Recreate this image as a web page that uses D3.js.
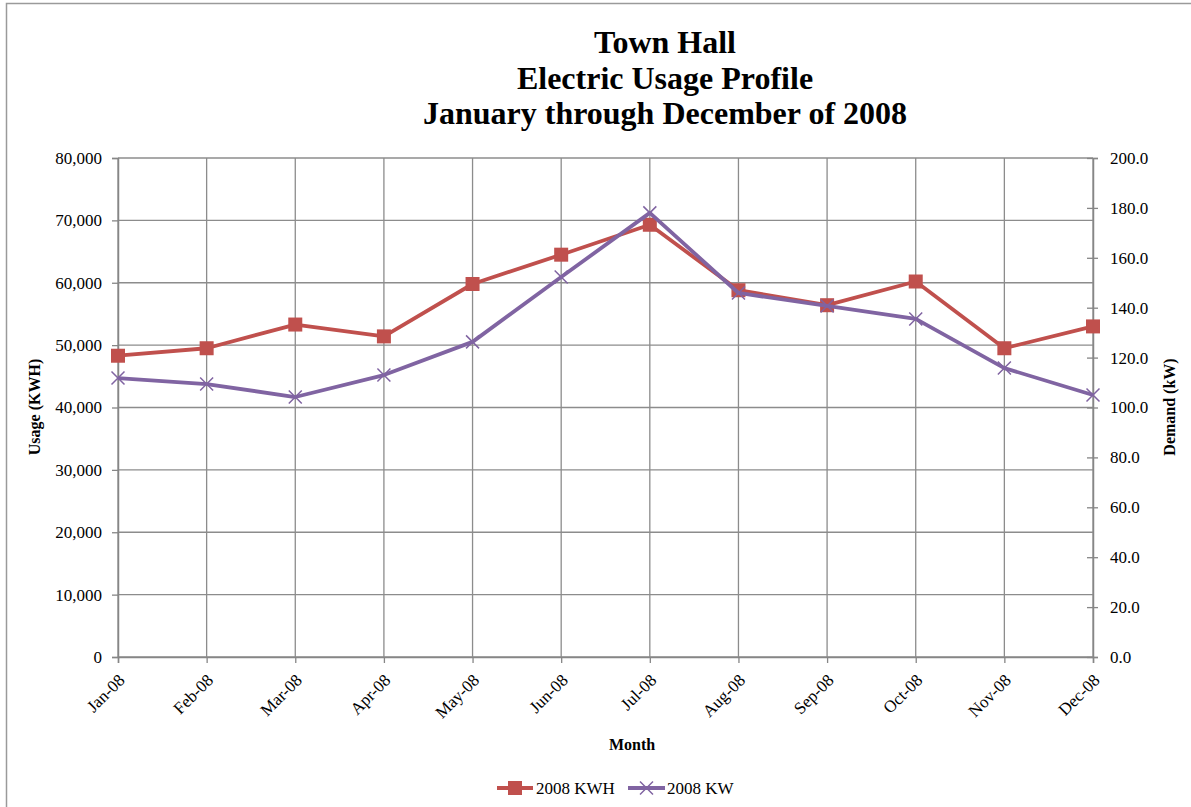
<!DOCTYPE html>
<html>
<head>
<meta charset="utf-8">
<script src="https://cdn.jsdelivr.net/npm/d3@7/dist/d3.min.js"></script>
<style>
  html, body { margin: 0; padding: 0; background: #fff; }
  svg { display: block; font-family: "Liberation Serif", "Times New Roman", serif; }
</style>
</head>
<body>
<svg id="chart" width="1191" height="807"></svg>
<script>
// Monthly categories and readings for 2008
const months = ["Jan-08", "Feb-08", "Mar-08", "Apr-08", "May-08", "Jun-08",
                "Jul-08", "Aug-08", "Sep-08", "Oct-08", "Nov-08", "Dec-08"];
const usageKWH = [48300, 49500, 53300, 51400, 59800, 64500,
                  69300, 58800, 56400, 60200, 49500, 53000];
const demandKW = [111.8, 109.4, 104.2, 113.0, 126.3, 152.3,
                  178.0, 145.9, 140.7, 135.5, 115.8, 105.0];
const leftTicks = [0, 10000, 20000, 30000, 40000, 50000, 60000, 70000, 80000];
const rightTicks = [0, 20, 40, 60, 80, 100, 120, 140, 160, 180, 200];
const titleLines = ["Town Hall", "Electric Usage Profile", "January through December of 2008"];
const seriesNames = ["2008 KWH", "2008 KW"];

const svg = d3.select("#chart");
const plot = { left: 118, right: 1093, top: 158, bottom: 657 };
const gridColor = "#8c8c8c";
const red = "#C0504D", purple = "#8064A2";

// Outer chart frame (only top and left edges fall inside the view)
svg.append("path")
  .attr("d", "M6.5,807 L6.5,3.5 L1191,3.5")
  .attr("fill", "none").attr("stroke", "#9a9a9a").attr("stroke-width", 1.5);

const x = d3.scalePoint().domain(months).range([plot.left, plot.right]).padding(0);
const yL = d3.scaleLinear().domain([0, 80000]).range([plot.bottom, plot.top]);
const yR = d3.scaleLinear().domain([0, 200]).range([plot.bottom, plot.top]);

// Grid lines
const grid = svg.append("g").attr("stroke", gridColor).attr("stroke-width", 1.3);
grid.selectAll("line.h").data(leftTicks).join("line")
  .attr("x1", plot.left).attr("x2", plot.right)
  .attr("y1", d => yL(d)).attr("y2", d => yL(d));
grid.selectAll("line.v").data(months).join("line")
  .attr("x1", d => x(d)).attr("x2", d => x(d))
  .attr("y1", plot.top).attr("y2", plot.bottom);

// Left axis
const fmt = d3.format(",");
const axL = svg.append("g").attr("transform", `translate(${plot.left},0)`)
  .call(d3.axisLeft(yL).tickValues(leftTicks).tickFormat(fmt).tickSize(6).tickPadding(10));
// Right axis
const axR = svg.append("g").attr("transform", `translate(${plot.right},0)`)
  .call(d3.axisRight(yR).tickValues(rightTicks).tickFormat(d3.format(".1f")).tickSize(5).tickPadding(12));
axR.selectAll(".tick line").attr("x1", -6);
// Bottom axis
const axB = svg.append("g").attr("transform", `translate(0,${plot.bottom})`)
  .call(d3.axisBottom(x).tickSize(6).tickPadding(0));

[axL, axR, axB].forEach(a => {
  a.select(".domain").attr("stroke", "#868686").attr("stroke-width", 1.5);
  a.selectAll(".tick line").attr("stroke", "#868686").attr("stroke-width", 1.3);
  a.selectAll("text").attr("font-size", 17).attr("fill", "#000")
    .attr("font-family", "Liberation Serif, Times New Roman, serif");
});
axB.selectAll(".tick text")
  .attr("text-anchor", "end")
  .attr("transform", "translate(3,20) rotate(-45)")
  .attr("dy", "0.35em").attr("y", 0);

// Series lines
const lineL = d3.line().x((d, i) => x(months[i])).y(d => yL(d));
const lineR = d3.line().x((d, i) => x(months[i])).y(d => yR(d));

svg.append("path").datum(usageKWH).attr("d", lineL)
  .attr("fill", "none").attr("stroke", red).attr("stroke-width", 3.8).attr("stroke-linejoin", "round");
svg.selectAll("rect.kwh").data(usageKWH).join("rect")
  .attr("x", (d, i) => x(months[i]) - 7).attr("y", d => yL(d) - 7)
  .attr("width", 14).attr("height", 14).attr("fill", red);

svg.append("path").datum(demandKW).attr("d", lineR)
  .attr("fill", "none").attr("stroke", purple).attr("stroke-width", 3.8).attr("stroke-linejoin", "round");
const cross = (cx, cy, r) => `M${cx - r},${cy - r}L${cx + r},${cy + r}M${cx - r},${cy + r}L${cx + r},${cy - r}`;
svg.selectAll("path.kw").data(demandKW).join("path")
  .attr("d", (d, i) => cross(x(months[i]), yR(d), 6.5))
  .attr("stroke", purple).attr("stroke-width", 1.5).attr("fill", "none");

// Title
svg.append("text").attr("x", 665).attr("y", 53)
  .attr("text-anchor", "middle").attr("font-weight", "bold").attr("font-size", 32)
  .selectAll("tspan").data(titleLines).join("tspan")
  .attr("x", 665).attr("dy", (d, i) => i === 0 ? 0 : 35.5).text(d => d);

// Axis titles
svg.append("text").attr("transform", "translate(40,407) rotate(-90)")
  .attr("text-anchor", "middle").attr("font-weight", "bold").attr("font-size", 16)
  .text("Usage (KWH)");
svg.append("text").attr("transform", "translate(1175,407) rotate(-90)")
  .attr("text-anchor", "middle").attr("font-weight", "bold").attr("font-size", 16)
  .text("Demand (kW)");
svg.append("text").attr("x", 632).attr("y", 750)
  .attr("text-anchor", "middle").attr("font-weight", "bold").attr("font-size", 16)
  .text("Month");

// Legend
const legend = svg.append("g").attr("transform", "translate(0,788)");
legend.append("line").attr("x1", 497).attr("x2", 533).attr("y1", 0).attr("y2", 0)
  .attr("stroke", red).attr("stroke-width", 3.8);
legend.append("rect").attr("x", 508).attr("y", -7).attr("width", 14).attr("height", 14).attr("fill", red);
legend.append("text").attr("x", 536).attr("y", 0).attr("dy", "0.35em").attr("font-size", 17)
  .text(seriesNames[0]);
legend.append("line").attr("x1", 628).attr("x2", 665).attr("y1", 0).attr("y2", 0)
  .attr("stroke", purple).attr("stroke-width", 3.8);
legend.append("path").attr("d", cross(646.5, 0, 6.5))
  .attr("stroke", purple).attr("stroke-width", 1.5).attr("fill", "none");
legend.append("text").attr("x", 667).attr("y", 0).attr("dy", "0.35em").attr("font-size", 17)
  .text(seriesNames[1]);
</script>
</body>
</html>
